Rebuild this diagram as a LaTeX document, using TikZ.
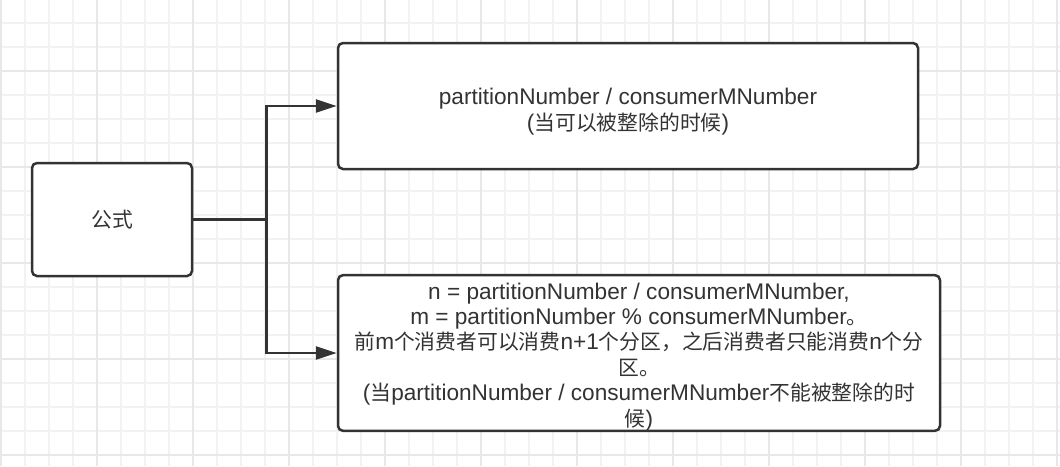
\documentclass[tikz,border=0pt]{standalone}
\usepackage{fontspec}
\setmainfont{Liberation Sans}[Scale=1.087]
\newfontfamily\zhfont{Noto Sans CJK SC}
\newcommand{\zh}[1]{{\zhfont #1}}
\usetikzlibrary{arrows.meta}
\usetikzlibrary{calc}
\usetikzlibrary{positioning}

\definecolor{ink}{HTML}{333333}
\definecolor{gridminor}{HTML}{F2F2F2}
\definecolor{gridmajor}{HTML}{E8E8E8}

\tikzset{
  box/.style={draw=ink, line width=2.5pt, rounded corners=5pt, fill=white,
    inner sep=0pt, align=center, text=ink, font=\fontsize{20.8}{25.4}\selectfont},
  link/.style={draw=ink, line width=2.5pt},
  arrow/.style={link, -{Triangle[length=21pt, width=13pt]}}
}

\begin{document}
\begin{tikzpicture}[x=1pt, y=-1pt]
  \useasboundingbox (0, 0) rectangle (1060, 466);
  \fill[white] (0, 0) rectangle (1060, 466);

  % grid, 24px cells, a darker line every 4 cells
  \foreach \x in {1, 25, ..., 1060} {
    \draw[gridminor, line width=1.5pt] (\x, 0) -- (\x, 466);
  }
  \foreach \y in {-1, 23, ..., 466} {
    \draw[gridminor, line width=1.5pt] (0, \y) -- (1060, \y);
  }
  \foreach \x in {1, 97, ..., 1060} {
    \draw[gridmajor, line width=1.5pt] (\x, 0) -- (\x, 466);
  }
  \foreach \y in {71, 167, ..., 466} {
    \draw[gridmajor, line width=1.5pt] (0, \y) -- (1060, \y);
  }

  % boxes (the rules push the text down a little, as in the drawing)
  \node[box, minimum width=160pt, minimum height=113pt] (formula) at (112, 219.5) {\zh{公式}};
  \node[box, minimum width=580pt, minimum height=126pt] (whole) at (628, 106)
    {\rule{0pt}{28pt}partitionNumber / consumerMNumber\\(\zh{当可以被整除的时候})};
  \node[box, minimum width=602pt, minimum height=154pt] (rest) at (639, 353)
    {\rule{0pt}{24pt}n = partitionNumber / consumerMNumber,\\
     m = partitionNumber \% consumerMNumber\zh{。}\\
     \zh{前}m\zh{个消费者可以消费}n+1\zh{个分区，之后消费者只能消费}n\zh{个分}\\
     \zh{区。}\\
     (\zh{当}partitionNumber / consumerMNumber\zh{不能被整除的时}\\
     \zh{候})};

  % connectors
  \coordinate (split) at ($(formula.east) + (73, 0)$);
  \draw[link] (formula.east) -- (split);
  \draw[arrow] (split) |- (whole.west);
  \draw[arrow] (split) |- (rest.west);
\end{tikzpicture}
\end{document}
